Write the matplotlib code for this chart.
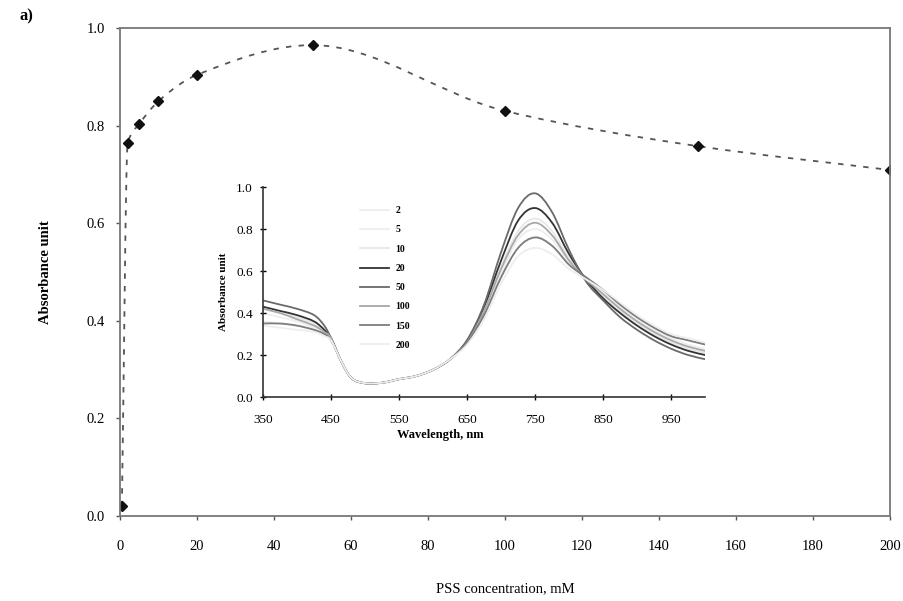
import numpy as np
import matplotlib
matplotlib.use("Agg")
import matplotlib.pyplot as plt
from matplotlib.path import Path
from matplotlib.patches import PathPatch
from matplotlib.lines import Line2D

plt.rcParams['font.family'] = ['Liberation Serif', 'DejaVu Serif']

# main plot: peak absorbance vs PSS concentration
pss_conc = [0.5, 2, 5, 10, 20, 50, 100, 150, 200]
peak_abs = [0.02, 0.764, 0.803, 0.85, 0.904, 0.965, 0.83, 0.758, 0.709]

# inset: spectra
wavelength = [350, 375, 400, 425, 440, 450, 465, 480, 500, 525, 550, 575, 600, 625,
              650, 675, 700, 725, 750, 775, 800, 825, 850, 875, 900, 925, 950, 975, 1000]
spec_2 = [0.36, 0.35, 0.34, 0.32, 0.30, 0.27, 0.17, 0.09, 0.066, 0.068, 0.085, 0.10, 0.13, 0.18,
          0.26, 0.39, 0.57, 0.71, 0.76, 0.72, 0.63, 0.57, 0.51, 0.44, 0.38, 0.33, 0.29, 0.27, 0.25]
spec_5 = [0.40, 0.38, 0.36, 0.33, 0.31, 0.28, 0.17, 0.09, 0.066, 0.068, 0.085, 0.10, 0.13, 0.18,
          0.26, 0.40, 0.59, 0.75, 0.80, 0.75, 0.64, 0.56, 0.50, 0.43, 0.37, 0.32, 0.28, 0.25, 0.23]
spec_10 = [0.42, 0.40, 0.38, 0.35, 0.31, 0.28, 0.17, 0.09, 0.066, 0.068, 0.085, 0.10, 0.13, 0.18,
           0.26, 0.41, 0.62, 0.79, 0.85, 0.79, 0.66, 0.56, 0.48, 0.41, 0.35, 0.30, 0.26, 0.23, 0.21]
spec_20 = [0.43, 0.41, 0.39, 0.36, 0.32, 0.28, 0.17, 0.09, 0.066, 0.068, 0.085, 0.10, 0.13, 0.18,
           0.27, 0.43, 0.65, 0.84, 0.90, 0.83, 0.68, 0.56, 0.47, 0.40, 0.34, 0.29, 0.25, 0.22, 0.20]
spec_50 = [0.46, 0.44, 0.42, 0.39, 0.34, 0.28, 0.17, 0.09, 0.065, 0.068, 0.085, 0.10, 0.13, 0.18,
           0.27, 0.44, 0.69, 0.90, 0.97, 0.88, 0.70, 0.55, 0.46, 0.38, 0.32, 0.27, 0.23, 0.20, 0.18]
spec_100 = [0.42, 0.40, 0.37, 0.34, 0.31, 0.28, 0.17, 0.09, 0.066, 0.068, 0.085, 0.10, 0.13, 0.18,
            0.26, 0.41, 0.61, 0.77, 0.83, 0.77, 0.65, 0.56, 0.49, 0.42, 0.36, 0.31, 0.27, 0.24, 0.22]
spec_150 = [0.35, 0.35, 0.34, 0.32, 0.30, 0.27, 0.17, 0.09, 0.066, 0.068, 0.085, 0.10, 0.13, 0.18,
            0.26, 0.39, 0.57, 0.71, 0.76, 0.72, 0.63, 0.57, 0.51, 0.44, 0.38, 0.33, 0.29, 0.27, 0.25]
spec_200 = [0.34, 0.33, 0.32, 0.31, 0.29, 0.27, 0.17, 0.09, 0.066, 0.068, 0.085, 0.10, 0.13, 0.18,
            0.25, 0.37, 0.54, 0.67, 0.71, 0.68, 0.61, 0.56, 0.51, 0.45, 0.39, 0.34, 0.30, 0.28, 0.26]
spec_labels = ['2', '5', '10', '20', '50', '100', '150', '200']
spec_colors = ['#eeeeee', '#eeeeee', '#e8e8e8', '#333333', '#6a6a6a', '#a8a8a8', '#7d7d7d', '#eeeeee']


def smooth_path(x, y):
    # excel-like smoothed line (catmull-rom as cubic bezier)
    pts = np.column_stack([x, y]).astype(float)
    n = len(pts)
    verts = [pts[0]]
    codes = [Path.MOVETO]
    for i in range(n - 1):
        p0 = pts[i - 1] if i > 0 else pts[i]
        p1 = pts[i]
        p2 = pts[i + 1]
        p3 = pts[i + 2] if i + 2 < n else pts[i + 1]
        verts += [p1 + (p2 - p0) / 6, p2 - (p3 - p1) / 6, p2]
        codes += [Path.CURVE4] * 3
    return Path(verts, codes)


def monotone_path(x, y):
    # hermite curve with fritsch-carlson slopes, no overshoot at the steep start
    x = np.asarray(x, float)
    y = np.asarray(y, float)
    h = np.diff(x)
    d = np.diff(y) / h
    m = np.zeros(len(x))
    m[0], m[-1] = d[0], d[-1]
    for i in range(1, len(x) - 1):
        if d[i - 1] * d[i] > 0:
            w1 = 2 * h[i] + h[i - 1]
            w2 = h[i] + 2 * h[i - 1]
            m[i] = (w1 + w2) / (w1 / d[i - 1] + w2 / d[i])
    verts = [(x[0], y[0])]
    codes = [Path.MOVETO]
    for i in range(len(x) - 1):
        verts += [(x[i] + h[i] / 3, y[i] + m[i] * h[i] / 3),
                  (x[i + 1] - h[i] / 3, y[i + 1] - m[i + 1] * h[i] / 3),
                  (x[i + 1], y[i + 1])]
        codes += [Path.CURVE4] * 3
    return Path(verts, codes)


fig = plt.figure(figsize=(9.04, 6.01), dpi=100)
ax = fig.add_axes([0.1327, 0.1414, 0.852, 0.812])

ax.add_patch(PathPatch(monotone_path(pss_conc, peak_abs), fill=False, edgecolor='#555555',
                       lw=1.3, linestyle=(0, (3, 4))))
ax.plot(pss_conc, peak_abs, linestyle='none', marker='D', ms=5.5, color='#111111')

ax.set_xlim(0, 200)
ax.set_ylim(0, 1.0)
ax.set_xticks(np.arange(0, 201, 20))
ax.set_yticks(np.arange(0, 1.01, 0.2))
ax.set_yticklabels(['0.0', '0.2', '0.4', '0.6', '0.8', '1.0'])
ax.tick_params(direction='out', length=3, width=1, labelsize=10.5, color='#555555', pad=14)
ax.tick_params(axis='y', pad=8)
for s in ax.spines.values():
    s.set_color('#777777')
    s.set_linewidth(1.3)
ax.set_xlabel('PSS concentration, mM', fontsize=10.5, labelpad=21)
ax.set_ylabel('Absorbance unit', fontsize=10.5, fontweight='bold', labelpad=25)
fig.text(0.022, 0.972, 'a)', fontsize=12, fontweight='bold', va='center')

# inset
axi = fig.add_axes([0.291, 0.3394, 0.489, 0.3494])
spectra = [spec_2, spec_5, spec_10, spec_20, spec_50, spec_100, spec_150, spec_200]
handles = []
for sp, lab, col in zip(spectra, spec_labels, spec_colors):
    axi.add_patch(PathPatch(smooth_path(wavelength, sp), fill=False, edgecolor=col, lw=1.3))
    handles.append(Line2D([], [], color=col, lw=1.3, label=lab))
axi.set_xlim(350, 1000)
axi.set_ylim(0, 1.0)
axi.set_xticks(np.arange(350, 1000, 100))
axi.set_yticks(np.arange(0, 1.01, 0.2))
axi.set_yticklabels(['0.0', '0.2', '0.4', '0.6', '0.8', '1.0'])
axi.spines['top'].set_visible(False)
axi.spines['right'].set_visible(False)
for s in ['left', 'bottom']:
    axi.spines[s].set_color('#333333')
    axi.spines[s].set_linewidth(1.2)
axi.tick_params(direction='inout', length=5, width=1, labelsize=9.5, pad=10)
axi.tick_params(axis='y', pad=5)
axi.set_xlabel('Wavelength, nm', fontsize=9, fontweight='bold')
axi.xaxis.set_label_coords(0.40, -0.15)
axi.set_ylabel('Absorbance unit', fontsize=8, fontweight='bold', labelpad=6)
leg = axi.legend(handles=handles, loc='upper left', bbox_to_anchor=(0.2, 0.95), frameon=False,
                 fontsize=7, handlelength=3, labelspacing=1.05, handletextpad=0.6)
for t in leg.get_texts():
    t.set_fontweight('bold')

fig.savefig('out.png', dpi=100)
